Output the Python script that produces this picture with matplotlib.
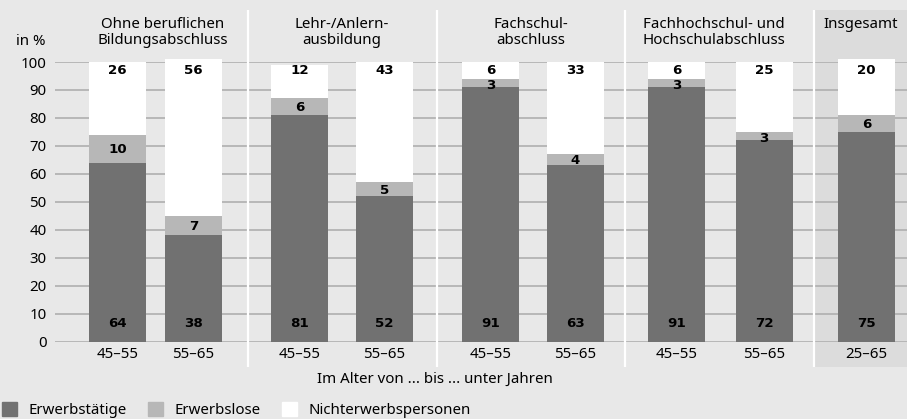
import matplotlib.pyplot as plt
from matplotlib.patches import Patch, Rectangle

# Erwerbsbeteiligung nach Bildungsabschluss und Alter, Anteile in %
groups = ["Ohne beruflichen\nBildungsabschluss", "Lehr-/Anlern-\nausbildung",
          "Fachschul-\nabschluss", "Fachhochschul- und\nHochschulabschluss", "Insgesamt"]
age_labels = ["45–55", "55–65", "45–55", "55–65", "45–55", "55–65", "45–55", "55–65", "25–65"]
erwerbstaetige = [64, 38, 81, 52, 91, 63, 91, 72, 75]
erwerbslose = [10, 7, 6, 5, 3, 4, 3, 3, 6]
nichterwerb = [26, 56, 12, 43, 6, 33, 6, 25, 20]
legend_labels = ["Erwerbstätige", "Erwerbslose", "Nichterwerbspersonen"]

# layout (x in figure pixels)
bar_x = [117.5, 193.5, 299.5, 384.5, 490.5, 575.5, 676.5, 764, 866.5]
bar_w = 57
group_edges = [55, 248, 437, 625, 814, 907]
header_x = [163, 342, 531, 714, 861]

c_dark = "#717171"
c_mid = "#b7b7b7"
c_bg = "#e8e8e8"
c_panel = "#dcdcdc"
c_grid = "#b3b3b3"

plt.rcParams["font.family"] = ["Noto Sans", "DejaVu Sans"]
plt.rcParams["font.size"] = 10.8

W, H = 907, 419
fig = plt.figure(figsize=(W / 100, H / 100), dpi=100, facecolor=c_bg)
y0_px, y100_px = 341.5, 62
ax = fig.add_axes([55 / W, (H - y0_px) / H, (W - 55) / W, (y0_px - y100_px) / H])
ax.set_facecolor("none")
ax.set_xlim(55, 907)
ax.set_ylim(0, 100)
for s in ax.spines.values():
    s.set_visible(False)

px = (y0_px - y100_px) / 100  # pixels per percent
top_val = (y0_px - 10) / px
bot_val = (y0_px - 367) / px

# "Insgesamt" panel
ax.add_patch(Rectangle((group_edges[4], bot_val), group_edges[5] - group_edges[4],
                       top_val - bot_val, color=c_panel, clip_on=False, zorder=0.1, lw=0))

ax.set_yticks(range(0, 101, 10))
ax.yaxis.grid(True, color=c_grid, lw=1.3)
ax.set_axisbelow(True)
ax.tick_params(axis="y", length=0, pad=6, labelsize=10.8)
ax.set_xticks(bar_x, age_labels)
ax.tick_params(axis="x", length=0, pad=4, labelsize=10.8)

# white separators between groups
ax.vlines(group_edges[1:5], bot_val, top_val, color="white", lw=1.6,
          clip_on=False, zorder=0.8)

b1 = erwerbstaetige
b2 = [a + b for a, b in zip(erwerbstaetige, erwerbslose)]
ax.bar(bar_x, erwerbstaetige, bar_w, color=c_dark, zorder=2)
ax.bar(bar_x, erwerbslose, bar_w, bottom=b1, color=c_mid, zorder=2)
ax.bar(bar_x, nichterwerb, bar_w, bottom=b2, color="white", zorder=2, clip_on=False)

num = dict(ha="center", va="center", family="DejaVu Sans", fontweight="bold",
           fontsize=9.6, zorder=3)
for x, e, l, bottom, n in zip(bar_x, erwerbstaetige, erwerbslose, b1, nichterwerb):
    ax.text(x, 6.5, str(e), **num)
    # thin grey segments: nudge the label down so it clears the top label
    shift = 0.9 if l < 4 else 0.3
    ax.text(x, bottom + l / 2 - shift, str(l), **num)
    ax.text(x, 96.8, str(n), **num)

for x, g in zip(header_x, groups):
    ax.text(x, (y0_px - 17) / px, g, ha="center", va="top", linespacing=1.12,
            clip_on=False)

ax.text(45, (y0_px - 42) / px, "in %", ha="right", va="center", clip_on=False)
ax.text((group_edges[0] + group_edges[4]) / 2, (y0_px - 379) / px,
        "Im Alter von ... bis ... unter Jahren", ha="center", va="center", clip_on=False)

handles = [Patch(color=c_dark), Patch(color=c_mid), Patch(color="white")]
fig.legend(handles, legend_labels, loc="lower left", bbox_to_anchor=(2 / W, 1 / H),
           ncol=3, frameon=False, handlelength=1.0, handleheight=1.0,
           handletextpad=0.75, columnspacing=1.45, borderaxespad=0, borderpad=0)

fig.savefig("out.png", dpi=100, facecolor=c_bg)
